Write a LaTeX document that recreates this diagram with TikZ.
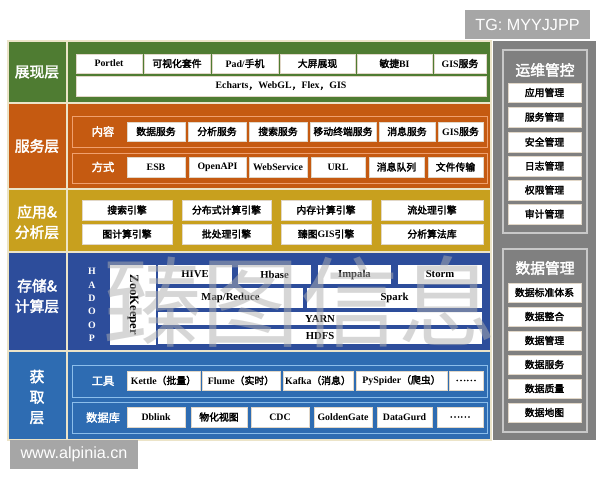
\documentclass[tikz,border=0pt]{standalone}
\usepackage{fontspec}
\setmainfont{Liberation Serif}
\newfontfamily\cjk[AutoFakeBold=2.5]{Noto Sans CJK SC}
\newfontfamily\wmfont{Liberation Sans}
\newcommand{\zh}[1]{{\cjk #1}}
\usetikzlibrary{positioning}

\definecolor{cGreen}{RGB}{79,124,50}
\definecolor{cOrange}{RGB}{197,90,17}
\definecolor{cGold}{RGB}{200,160,30}
\definecolor{cNavy}{RGB}{45,77,155}
\definecolor{cBlue}{RGB}{46,108,178}
\definecolor{cPanel}{RGB}{128,128,128}
\definecolor{cFrame}{RGB}{200,200,200}
\definecolor{cLine}{RGB}{236,228,200}
\definecolor{cSvcLine}{RGB}{240,160,110}
\definecolor{cAcqLine}{RGB}{140,190,235}
\definecolor{cItemLine}{RGB}{225,215,200}
\definecolor{cWmBox}{RGB}{166,166,166}
\definecolor{cWmText}{RGB}{175,175,175}

\def\px{0.025cm}

% one white box from its corners (x1,y1) to (x2,y2), in pixels
\newcommand{\itembox}[6]{%
  \node[itm, minimum width={(#4-#2)*\px}, minimum height={(#5-#3)*\px}]
    (#1) at ({(#2+#4)/2},{(#3+#5)/2}) {#6};}

\tikzset{
  layer/.style={draw=cLine, line width=0.8pt},
  itm/.style={fill=white, draw=cItemLine, line width=0.3pt, inner sep=0pt,
    font=\bfseries\fontsize{7}{8}\selectfont},
  laylabel/.style={text=white, align=center,
    font=\cjk\bfseries\fontsize{10.5}{14.5}\selectfont},
  rowlabel/.style={text=white, font=\cjk\bfseries\fontsize{8}{10}\selectfont},
  wmbox/.style={fill=cWmBox, text=white, inner sep=0pt,
    font=\wmfont\fontsize{11.5}{12}\selectfont}
}

\begin{document}
\begin{tikzpicture}[x=0.025cm, y=-0.025cm]
  \useasboundingbox (0,0) rectangle (600,480);

  % Layers
  \filldraw[layer, fill=cGreen]  (8,41) rectangle (67,103);
  \filldraw[layer, fill=cGreen]  (67,41) rectangle (491,103);
  \filldraw[layer, fill=cOrange] (8,103) rectangle (67,189);
  \filldraw[layer, fill=cOrange] (67,103) rectangle (491,189);
  \filldraw[layer, fill=cGold]   (8,189) rectangle (67,252);
  \filldraw[layer, fill=cGold]   (67,189) rectangle (491,252);
  \filldraw[layer, fill=cNavy]   (8,252) rectangle (67,351);
  \filldraw[layer, fill=cNavy]   (67,252) rectangle (491,351);
  \filldraw[layer, fill=cBlue]   (8,351) rectangle (67,440);
  \filldraw[layer, fill=cBlue]   (67,351) rectangle (491,440);

  \node[laylabel] (show) at (37,72) {展现层};
  \node[laylabel] (svc) at (37,146) {服务层};
  \node[laylabel] (app) at (37,222) {应用\&\\分析层};
  \node[laylabel] (sto) at (37,296) {存储\&\\计算层};
  \node[laylabel] (acq) at (37,397) {获\\取\\层};

  % Presentation
  \itembox{p1}{76}{54}{142}{73}{Portlet}
  \itembox{p2}{144}{54}{210}{73}{\zh{可视化套件}}
  \itembox{p3}{212}{54}{278}{73}{Pad/\zh{手机}}
  \itembox{p4}{280}{54}{355}{73}{\zh{大屏展现}}
  \itembox{p5}{357}{54}{432}{73}{\zh{敏捷}BI}
  \itembox{p6}{434}{54}{486}{73}{GIS\zh{服务}}
  \itembox{p7}{76}{76}{486}{96}{Echarts\zh{，}WebGL\zh{，}Flex\zh{，}GIS}

  % Services
  \draw[cSvcLine, line width=0.6pt] (72,116) rectangle (487,147);
  \draw[cSvcLine, line width=0.6pt] (72,153) rectangle (487,183);
  \node[rowlabel] (content) at (103,131.5) {内容};
  \node[rowlabel] (mode) at (103,167) {方式};
  \itembox{s1}{127}{122}{185}{141}{\zh{数据服务}}
  \itembox{s2}{188}{122}{246}{141}{\zh{分析服务}}
  \itembox{s3}{249}{122}{307}{141}{\zh{搜索服务}}
  \itembox{s4}{310}{122}{376}{141}{\zh{移动终端服务}}
  \itembox{s5}{379}{122}{435}{141}{\zh{消息服务}}
  \itembox{s6}{438}{122}{483}{141}{GIS\zh{服务}}
  \itembox{m1}{127}{157}{185}{177}{ESB}
  \itembox{m2}{189}{157}{246}{177}{OpenAPI}
  \itembox{m3}{249}{157}{307}{177}{WebService}
  \itembox{m4}{311}{157}{365}{177}{URL}
  \itembox{m5}{369}{157}{424}{177}{\zh{消息队列}}
  \itembox{m6}{428}{157}{483}{177}{\zh{文件传输}}

  % Application & analysis
  \itembox{a1}{82}{200}{172}{220}{\zh{搜索引擎}}
  \itembox{a2}{182}{200}{271}{220}{\zh{分布式计算引擎}}
  \itembox{a3}{281}{200}{371}{220}{\zh{内存计算引擎}}
  \itembox{a4}{381}{200}{483}{220}{\zh{流处理引擎}}
  \itembox{a5}{82}{224}{172}{244}{\zh{图计算引擎}}
  \itembox{a6}{182}{224}{271}{244}{\zh{批处理引擎}}
  \itembox{a7}{281}{224}{371}{244}{\zh{臻图}GIS\zh{引擎}}
  \itembox{a8}{381}{224}{483}{244}{\zh{分析算法库}}

  % Storage & computing
  \node[text=white, align=center, font=\bfseries\fontsize{7}{9.5}\selectfont] (hadoop) at (92,305) {H\\A\\D\\O\\O\\P};
  \node[itm, draw=none, rotate=-90, minimum width={80*\px}, minimum height={46*\px},
    font=\bfseries\fontsize{9}{10}\selectfont] (zk) at (133,305) {ZooKeeper};
  \tikzset{itm/.append style={draw=none, font=\bfseries\fontsize{7.6}{8}\selectfont}}
  \itembox{hive}{158}{265}{232}{284}{HIVE}
  \itembox{hbase}{238}{265}{311}{284}{Hbase}
  \itembox{impala}{318}{265}{391}{284}{Impala}
  \itembox{storm}{398}{265}{482}{284}{Storm}
  \itembox{mr}{158}{288}{303}{308}{Map/Reduce}
  \itembox{spark}{307}{288}{482}{308}{Spark}
  \itembox{yarn}{158}{312}{482}{325}{YARN}
  \itembox{hdfs}{158}{329}{482}{344}{HDFS}
  \tikzset{itm/.append style={draw=cItemLine, font=\bfseries\fontsize{7}{8}\selectfont}}

  % Acquisition
  \draw[cAcqLine, line width=0.6pt] (72,365) rectangle (487,397);
  \draw[cAcqLine, line width=0.6pt] (72,402) rectangle (487,433);
  \node[rowlabel] (tools) at (103,381) {工具};
  \node[rowlabel] (db) at (103,417.5) {数据库};
  \itembox{t1}{127}{371}{200}{390}{Kettle\zh{（批量）}}
  \itembox{t2}{202}{371}{280}{390}{Flume\zh{（实时）}}
  \itembox{t3}{283}{371}{353}{390}{Kafka\zh{（消息）}}
  \itembox{t4}{356}{371}{447}{390}{PySpider\zh{（爬虫）}}
  \itembox{t5}{449}{371}{483}{390}{\zh{……}}
  \itembox{d1}{127}{407}{185}{427}{Dblink}
  \itembox{d2}{191}{407}{247}{427}{\zh{物化视图}}
  \itembox{d3}{251}{407}{309}{427}{CDC}
  \itembox{d4}{314}{407}{372}{427}{GoldenGate}
  \itembox{d5}{377}{407}{432}{427}{DataGurd}
  \itembox{d6}{437}{407}{483}{427}{\zh{……}}

  % Right panel
  \fill[cPanel] (493,41) rectangle (596,440);
  \draw[cFrame, line width=0.8pt] (503,50) rectangle (587,233);
  \draw[cFrame, line width=0.8pt] (503,249) rectangle (587,432);
  \node[laylabel] (ops) at (545,70) {运维管控};
  \itembox{o1}{508}{83}{581}{102}{\zh{应用管理}}
  \itembox{o2}{508}{107}{581}{127}{\zh{服务管理}}
  \itembox{o3}{508}{132}{581}{152}{\zh{安全管理}}
  \itembox{o4}{508}{156}{581}{176}{\zh{日志管理}}
  \itembox{o5}{508}{180}{581}{200}{\zh{权限管理}}
  \itembox{o6}{508}{204}{581}{224}{\zh{审计管理}}
  \node[laylabel] (dm) at (545,268) {数据管理};
  \itembox{g1}{508}{283}{581}{302}{\zh{数据标准体系}}
  \itembox{g2}{508}{307}{581}{326}{\zh{数据整合}}
  \itembox{g3}{508}{331}{581}{350}{\zh{数据管理}}
  \itembox{g4}{508}{355}{581}{374}{\zh{数据服务}}
  \itembox{g5}{508}{379}{581}{398}{\zh{数据质量}}
  \itembox{g6}{508}{403}{581}{422}{\zh{数据地图}}

  % Watermarks
  \node[text=cWmText, opacity=0.5, font=\cjk\fontsize{70}{70}\selectfont] (wm) at (300,302) {臻图信息};
  \node[wmbox, minimum width={125*\px}, minimum height={29*\px}] (tg) at (527.5,24.5) {TG: MYYJJPP};
  \node[wmbox, minimum width={128*\px}, minimum height={29*\px}] (www) at (74,454.5) {www.alpinia.cn};
\end{tikzpicture}
\end{document}
